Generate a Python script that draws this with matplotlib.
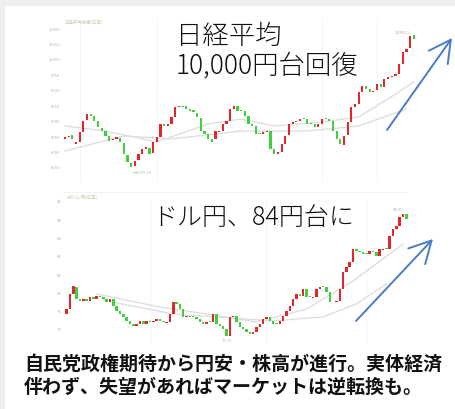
import matplotlib
matplotlib.use("Agg")
import matplotlib.pyplot as plt
from matplotlib.patches import Rectangle, FancyArrowPatch
from matplotlib.lines import Line2D

plt.rcParams['font.family'] = ['Noto Sans CJK JP', 'DejaVu Sans']

# ---------------- Data: Nikkei 225 daily candles ----------------
nk_open = [8700, 8735, 8760, 8625, 8660, 8815, 9010, 9110, 9075, 8990,
           8880, 8830, 8750, 8680, 8705, 8720, 8640, 8450, 8310, 8265,
           8360, 8465, 8545, 8560, 8470, 8650, 8735, 8950, 8920, 8950,
           9060, 9220, 9245, 9240, 9190, 9165, 9130, 9050, 8830, 8780,
           8700, 8700, 8815, 8840, 8950, 9000, 9190, 9240, 9175, 9160,
           9075, 8950, 8910, 8800, 8785, 8812, 8830, 8535, 8460, 8490,
           8625, 8760, 8950, 8975, 9000, 9045, 9020, 8965, 8940, 8895,
           8950, 9040, 9025, 8990, 8830, 8700, 8610, 8760, 8975, 9220,
           9275, 9460, 9565, 9510, 9460, 9490, 9590, 9545, 9680, 9705,
           9730, 9760, 9925, 10110, 10170, 10380]
nk_close = [8729, 8756, 8702, 8648, 8810, 8999, 9107, 9080, 8999, 8891,
            8837, 8756, 8675, 8702, 8729, 8648, 8459, 8324, 8254, 8351,
            8459, 8540, 8567, 8459, 8648, 8729, 8945, 8918, 8945, 9053,
            9215, 9242, 9215, 9188, 9161, 9134, 9053, 8837, 8783, 8702,
            8648, 8837, 8837, 8945, 8999, 9188, 9242, 9161, 9161, 9080,
            8945, 8918, 8783, 8783, 8810, 8837, 8540, 8459, 8486, 8621,
            8756, 8945, 8972, 8999, 9026, 9026, 8945, 8945, 8891, 8945,
            9026, 9026, 8999, 8837, 8702, 8621, 8756, 8972, 9215, 9269,
            9458, 9566, 9512, 9458, 9485, 9593, 9539, 9674, 9701, 9728,
            9755, 9917, 10106, 10160, 10376, 10322]
nk_ma_short_idx = [0, 11, 25, 39, 48, 57, 70, 80, 88, 95]
nk_ma_short_val = [8914, 8833, 8655, 8946, 9027, 8914, 8979, 9060, 9351, 9626]
nk_ma_long_idx = [0, 16, 29, 48, 66, 80, 93]
nk_ma_long_val = [8509, 8752, 8703, 8833, 8833, 8914, 9189]
nk_ticks = [8250, 8500, 8750, 9000, 9250, 9500, 9750, 10000, 10250, 10500]

# ---------------- Data: USD/JPY daily candles ----------------
fx_open = [78.80, 79.10, 79.92, 80.30, 79.65, 79.55, 79.64, 79.55, 79.74, 79.64,
           79.82, 79.74, 79.65, 79.46, 79.62, 79.28, 79.00, 78.82, 78.64, 78.46,
           78.28, 78.18, 78.28, 78.46, 78.28, 78.46, 78.37, 78.46, 78.55, 78.46,
           78.30, 78.37, 78.82, 79.46, 79.37, 79.09, 78.64, 78.73, 78.70, 78.64,
           78.55, 78.37, 78.28, 78.42, 78.37, 78.82, 78.28, 78.18, 78.00, 77.64,
           78.64, 78.73, 78.37, 78.09, 78.00, 77.82, 77.73, 77.82, 78.09, 78.28,
           78.55, 78.64, 78.46, 78.35, 78.28, 78.46, 78.73, 79.00, 79.28, 79.64,
           79.91, 79.82, 80.19, 79.78, 79.68, 79.73, 80.19, 80.35, 80.28, 80.00,
           79.50, 79.46, 79.55, 80.19, 81.10, 81.37, 81.64, 82.37, 82.28, 82.19,
           82.15, 82.10, 82.28, 82.19, 82.01, 82.30, 82.42, 82.37, 83.10, 83.46,
           83.65, 84.10, 84.28]
fx_close = [79.09, 79.91, 80.33, 79.64, 79.55, 79.64, 79.55, 79.73, 79.64, 79.82,
            79.73, 79.64, 79.46, 79.64, 79.28, 79.00, 78.82, 78.64, 78.46, 78.28,
            78.18, 78.28, 78.46, 78.28, 78.46, 78.37, 78.46, 78.55, 78.46, 78.37,
            78.37, 78.82, 79.46, 79.37, 79.09, 78.64, 78.73, 78.64, 78.64, 78.55,
            78.37, 78.28, 78.37, 78.37, 78.82, 78.28, 78.18, 78.00, 77.64, 78.64,
            78.73, 78.37, 78.09, 78.00, 77.82, 77.73, 77.82, 78.09, 78.28, 78.55,
            78.64, 78.46, 78.28, 78.28, 78.46, 78.73, 79.00, 79.28, 79.64, 79.91,
            79.82, 80.19, 79.73, 79.73, 79.73, 80.19, 80.28, 80.28, 80.00, 79.46,
            79.46, 79.55, 80.19, 81.10, 81.37, 81.64, 82.37, 82.28, 82.19, 82.10,
            82.10, 82.28, 82.19, 82.01, 82.37, 82.37, 82.37, 83.10, 83.46, 83.65,
            84.10, 84.28, 84.01]
fx_ma_short_idx = [9, 28, 42, 57, 72, 86, 101]
fx_ma_short_val = [79.91, 79.20, 78.82, 78.38, 79.09, 80.62, 82.64]
fx_ma_long_idx = [12, 32, 62, 77, 87, 96]
fx_ma_long_val = [79.53, 78.82, 78.44, 78.66, 79.37, 80.46]
fx_ticks = [78, 79, 80, 81, 82, 83, 84, 85]

UP = '#e3262c'
DOWN = '#3fcf3f'
MA_C = '#dedede'
W, H = 455, 410


def fx_(px):
    return px / W


def fy_(py):
    return 1 - py / H


fig = plt.figure(figsize=(W / 100, H / 100), dpi=100)
fig.patch.set_facecolor('white')
fig.patches.append(Rectangle((0, fy_(7)), 1, 7 / H, transform=fig.transFigure,
                             facecolor='#eeeeee', edgecolor='none', zorder=0))
fig.patches.append(Rectangle((0, 0), 5 / W, 1, transform=fig.transFigure,
                             facecolor='#eeeeee', edgecolor='none', zorder=0))


def candles(ax, opens, closes, width):
    idx = list(range(len(opens)))
    heights = [c - o for o, c in zip(opens, closes)]
    cols = [UP if c >= o else DOWN for o, c in zip(opens, closes)]
    ax.bar(idx, heights, bottom=opens, width=width, color=cols, linewidth=0, zorder=3)


def style(ax, ticks, labels):
    for s in ax.spines.values():
        s.set_visible(False)
    ax.set_xticks([])
    ax.set_yticks(ticks)
    ax.set_yticklabels(labels, fontsize=3, color='#b5b5b5')
    ax.tick_params(axis='y', length=0, pad=2)
    ax.set_facecolor('none')


# ---------------- Chart 1: Nikkei ----------------
ax1 = fig.add_axes([fx_(63), fy_(182), 357 / W, 162 / H])
candles(ax1, nk_open, nk_close, 0.6)
ax1.plot(nk_ma_short_idx, nk_ma_short_val, color=MA_C, lw=1.0, zorder=2)
ax1.plot(nk_ma_long_idx, nk_ma_long_val, color=MA_C, lw=1.0, zorder=2)
for gx in [4, 25, 70, 85]:
    ax1.axvline(gx, color='#f5f5f5', lw=0.8, zorder=1)
ax1.set_xlim(-0.55, 96.7)
ax1.set_ylim(8023, 10646)
style(ax1, nk_ticks, [str(t) for t in nk_ticks])
ax1.text(18.5, min(nk_close) - 60, '←8295.63', fontsize=3, color='#9ac89a',
         va='top', ha='left', zorder=4)
ax1.text(94, max(nk_close) + 20, '10395.2', fontsize=3, color='#d09a9a',
         va='bottom', ha='right', zorder=4)

# ---------------- Chart 2: USD/JPY ----------------
ax2 = fig.add_axes([fx_(64), fy_(345), 356 / W, 147 / H])
candles(ax2, fx_open, fx_close, 0.75)
ax2.plot(fx_ma_short_idx, fx_ma_short_val, color=MA_C, lw=1.0, zorder=2)
ax2.plot(fx_ma_long_idx, fx_ma_long_val, color=MA_C, lw=1.0, zorder=2)
for gx in [25, 60, 90]:
    ax2.axvline(gx, color='#f5f5f5', lw=0.8, zorder=1)
ax2.set_xlim(-0.81, 106.1)
ax2.set_ylim(77.18, 85.21)
style(ax2, fx_ticks, [str(t) for t in fx_ticks])
ax2.text(48, min(fx_close) - 0.12, '77.13', fontsize=3, color='#b0b0b0',
         va='top', ha='center', zorder=4)
ax2.text(101, max(fx_close) + 0.15, '84.46', fontsize=3, color='#b0b0b0',
         va='bottom', ha='right', zorder=4)

# small chart titles
fig.text(fx_(64), fy_(22), '日経平均株価(日足)', fontsize=3.2, color='#c9c9a8',
         va='center', ha='left')
fig.text(fx_(67), fy_(197.5), '米ドル/円(日足)', fontsize=3.2, color='#c9c9a8',
         va='center', ha='left')
fig.add_artist(Line2D([fx_(63), fx_(407)], [fy_(193), fy_(193)],
                      transform=fig.transFigure, color='#f2f2f2', lw=0.8))

# headings
fig.text(fx_(176), fy_(36), '日経平均', fontsize=19, fontweight='light',
         color='#111111', va='center', ha='left')
fig.text(fx_(176), fy_(66.5), '10,000円台回復', fontsize=19, fontweight='light',
         color='#111111', va='center', ha='left')
fig.text(fx_(152), fy_(218), 'ドル円、84円台に', fontsize=18, fontweight='light',
         color='#111111', va='center', ha='left')

# arrows
arrow_c = '#4a7cc4'
for (x0, y0, x1, y1) in [(387, 131, 452, 39), (356, 322, 433, 240)]:
    fig.add_artist(FancyArrowPatch((fx_(x0), fy_(y0)), (fx_(x1), fy_(y1)),
                                   transform=fig.transFigure,
                                   arrowstyle='->,head_length=0.6,head_width=0.32',
                                   mutation_scale=26, color=arrow_c, lw=1.4,
                                   shrinkA=0, shrinkB=0))

# bottom caption
fig.text(fx_(24), fy_(364), '自民党政権期待から円安・株高が進行。実体経済',
         fontsize=13.7, fontweight='bold', color='#111111', va='center', ha='left')
fig.text(fx_(24), fy_(387), '伴わず、失望があればマーケットは逆転換も。',
         fontsize=13.7, fontweight='bold', color='#111111', va='center', ha='left')

fig.savefig('out.png', dpi=100)
